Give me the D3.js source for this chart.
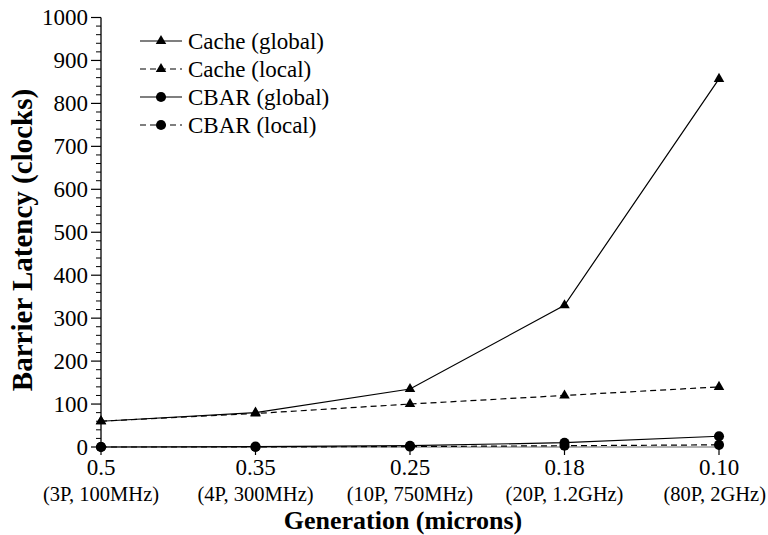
<!DOCTYPE html>
<html lang="en">
<head>
    <meta charset="UTF-8">
    <title>Barrier Latency</title>
    <script src="https://d3js.org/d3.v7.min.js"></script>
    <style>
        body { margin: 0; background: white; }
    </style>
</head>
<body>
    <div id="chart"></div>

    <script>
        // data
        const generations = ["0.5", "0.35", "0.25", "0.18", "0.10"];
        const configs = ["(3P, 100MHz)", "(4P, 300MHz)", "(10P, 750MHz)", "(20P, 1.2GHz)", "(80P, 2GHz)"];
        const cacheGlobal = [60, 80, 135, 330, 857];
        const cacheLocal = [60, 78, 100, 120, 140];
        const cbarGlobal = [0, 1, 3, 10, 25];
        const cbarLocal = [0, 0, 1, 3, 5];
        const yTicks = [0, 100, 200, 300, 400, 500, 600, 700, 800, 900, 1000];

        const series = [
            { name: "Cache (global)", values: cacheGlobal, marker: "triangle", dashed: false },
            { name: "Cache (local)", values: cacheLocal, marker: "triangle", dashed: true },
            { name: "CBAR (global)", values: cbarGlobal, marker: "circle", dashed: false },
            { name: "CBAR (local)", values: cbarLocal, marker: "circle", dashed: true }
        ];

        const FONT = `"Liberation Serif", serif`;
        const width = 768, height = 535;
        const margin = { top: 17.5, right: 49, bottom: 88, left: 101 };

        const svg = d3.select("#chart").append("svg")
            .attr("width", width)
            .attr("height", height);

        const x = d3.scalePoint()
            .domain(generations)
            .range([margin.left, width - margin.right]);

        const y = d3.scaleLinear()
            .domain([0, 1000])
            .range([height - margin.bottom, margin.top]);

        // y axis: spine + major and minor ticks
        svg.append("line")
            .attr("x1", margin.left).attr("x2", margin.left)
            .attr("y1", y(0)).attr("y2", y(1000))
            .attr("stroke", "black").attr("stroke-width", 1.3);

        const minor = d3.range(0, 1001, 20).filter(v => v % 100 !== 0);
        svg.selectAll(".minor")
            .data(minor)
            .enter().append("line")
            .attr("x1", margin.left - 5).attr("x2", margin.left)
            .attr("y1", d => y(d)).attr("y2", d => y(d))
            .attr("stroke", "black").attr("stroke-width", 1);

        svg.selectAll(".major")
            .data(yTicks)
            .enter().append("line")
            .attr("x1", margin.left - 10).attr("x2", margin.left)
            .attr("y1", d => y(d)).attr("y2", d => y(d))
            .attr("stroke", "black").attr("stroke-width", 1.2);

        svg.selectAll(".ylab")
            .data(yTicks)
            .enter().append("text")
            .attr("x", margin.left - 13)
            .attr("y", d => y(d))
            .attr("dy", "0.33em")
            .attr("text-anchor", "end")
            .style("font-family", FONT)
            .style("font-size", "23px")
            .text(d => d);

        // x axis ticks and labels
        svg.append("line")
            .attr("x1", margin.left).attr("x2", width - margin.right)
            .attr("y1", y(0)).attr("y2", y(0))
            .attr("stroke", "#666").attr("stroke-width", 1);

        svg.selectAll(".xtick")
            .data(generations)
            .enter().append("line")
            .attr("x1", d => x(d)).attr("x2", d => x(d))
            .attr("y1", y(0)).attr("y2", y(0) + 8)
            .attr("stroke", "black").attr("stroke-width", 1.2);

        svg.selectAll(".xlab")
            .data(generations)
            .enter().append("text")
            .attr("x", d => x(d))
            .attr("y", 475)
            .attr("text-anchor", "middle")
            .style("font-family", FONT)
            .style("font-size", "23px")
            .text(d => d);

        svg.selectAll(".xsub")
            .data(configs)
            .enter().append("text")
            .attr("x", (d, i) => x(generations[i]))
            .attr("y", 501)
            .attr("text-anchor", "middle")
            .style("font-family", FONT)
            .style("font-size", "20.5px")
            .text(d => d)
            .each(function () {
                // keep the last label inside the page
                const b = this.getBBox();
                const over = b.x + b.width - (width - 2);
                if (over > 0) d3.select(this).attr("x", +this.getAttribute("x") - over);
            });

        // axis titles
        svg.append("text")
            .attr("x", 403)
            .attr("y", 529)
            .attr("text-anchor", "middle")
            .style("font-family", FONT)
            .style("font-size", "26px")
            .style("font-weight", "bold")
            .text("Generation (microns)");

        svg.append("text")
            .attr("transform", "translate(32, 240) rotate(-90)")
            .attr("text-anchor", "middle")
            .style("font-family", FONT)
            .style("font-size", "29px")
            .style("font-weight", "bold")
            .text("Barrier Latency (clocks)");

        const tri = d3.symbol().type(d3.symbolTriangle).size(48);
        const circ = d3.symbol().type(d3.symbolCircle).size(80);

        const line = d3.line()
            .x((d, i) => x(generations[i]))
            .y(d => y(d));

        // draw series
        series.forEach(s => {
            svg.append("path")
                .datum(s.values)
                .attr("d", line)
                .attr("fill", "none")
                .attr("stroke", "black")
                .attr("stroke-width", 1.2)
                .attr("stroke-dasharray", s.dashed ? "6,4" : null);

            svg.selectAll(null)
                .data(s.values)
                .enter().append("path")
                .attr("d", s.marker === "triangle" ? tri : circ)
                .attr("transform", (d, i) => `translate(${x(generations[i])},${y(d)})`)
                .attr("fill", "black");
        });

        // legend
        const legend = svg.append("g").attr("transform", "translate(140, 41)");
        series.forEach((s, i) => {
            const g = legend.append("g").attr("transform", `translate(0, ${i * 28})`);
            g.append("line")
                .attr("x1", 0).attr("x2", 42)
                .attr("stroke", "black").attr("stroke-width", 1.2)
                .attr("stroke-dasharray", s.dashed ? "6,4" : null);
            g.append("path")
                .attr("d", s.marker === "triangle" ? tri : circ)
                .attr("transform", "translate(21,0)")
                .attr("fill", "black");
            g.append("text")
                .attr("x", 48)
                .attr("dy", "0.33em")
                .style("font-family", FONT)
                .style("font-size", "23px")
                .text(s.name);
        });
    </script>
</body>
</html>
